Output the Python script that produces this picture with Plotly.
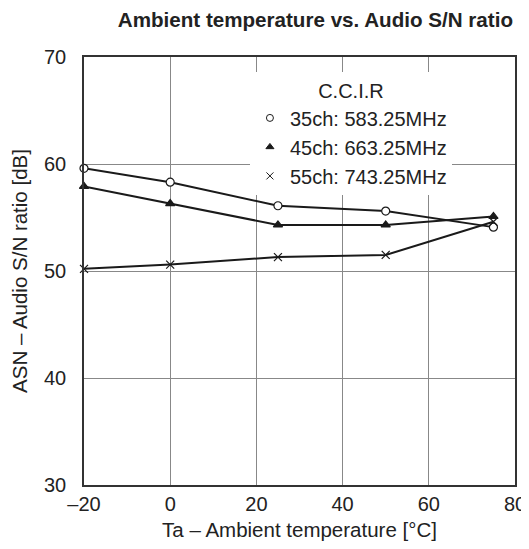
import plotly.graph_objects as go

temps = [-20, 0, 25, 50, 75]
ch35 = [59.6, 58.3, 56.1, 55.6, 54.1]
ch45 = [57.9, 56.3, 54.3, 54.3, 55.1]
ch55 = [50.2, 50.6, 51.3, 51.5, 54.6]

names = ["35ch: 583.25MHz", "45ch: 663.25MHz", "55ch: 743.25MHz"]
symbols = ["circle", "triangle-up", "x-thin"]
fills = ["white", "#1a1a1a", "#1a1a1a"]
series = [ch35, ch45, ch55]

x_ticks = [-20, 0, 20, 40, 60, 80]
x_tick_text = ["\u201320", "0", "20", "40", "60", "80"]
y_ticks = [30, 40, 50, 60, 70]

LINE = "#1a1a1a"
FONT = "Liberation Sans, Arial, sans-serif"

fig = go.Figure()
for name, sym, fill, vals in zip(names, symbols, fills, series):
    fig.add_trace(go.Scatter(
        x=temps, y=vals, mode="lines+markers", showlegend=False,
        line=dict(color=LINE, width=2),
        marker=dict(symbol=sym, size=8, color=fill,
                    line=dict(color=LINE, width=1.2)),
        cliponaxis=False,
    ))
for name, sym, fill in zip(names, symbols, fills):
    fig.add_trace(go.Scatter(
        x=[None], y=[None], mode="markers", name=name,
        marker=dict(symbol=sym, size=7, color=fill,
                    line=dict(color=LINE, width=1)),
    ))

fig.update_layout(
    width=521, height=533,
    margin=dict(l=76, r=14, t=49, b=56),
    paper_bgcolor="white", plot_bgcolor="white",
    font=dict(family=FONT, size=20, color="#222"),
    title=dict(text="<b>Ambient temperature vs. Audio S/N ratio</b>",
               x=0.590, xanchor="center", y=0.9775, yanchor="middle",
               font=dict(size=20.6, color="#222")),
    xaxis=dict(range=[-20, 80], tickvals=x_ticks, ticktext=x_tick_text,
               showgrid=True, gridcolor="#888", gridwidth=1,
               showline=True, linecolor="#333", linewidth=1.5, mirror=True,
               ticks="", zeroline=False, tickfont=dict(size=20), automargin=False,
               title=dict(text="Ta \u2013 Ambient temperature [\u00b0C]", font=dict(size=20.5), standoff=12)),
    yaxis=dict(range=[30, 70], tickvals=y_ticks,
               showgrid=True, gridcolor="#888", gridwidth=1,
               showline=True, linecolor="#333", linewidth=1.5, mirror=True,
               ticks="", zeroline=False, tickfont=dict(size=20), automargin=False,
               ticklabelstandoff=12,
               title=dict(text="ASN \u2013 Audio S/N ratio [dB]", font=dict(size=20.5), standoff=15)),
    legend=dict(x=0.385, y=0.964, xanchor="left", yanchor="top",
                bgcolor="white", borderwidth=0,
                font=dict(size=20), itemwidth=30, tracegroupgap=0,
                title=dict(text="C.C.I.R", side="top center", font=dict(size=20))),
)

fig.write_html("out.html")
